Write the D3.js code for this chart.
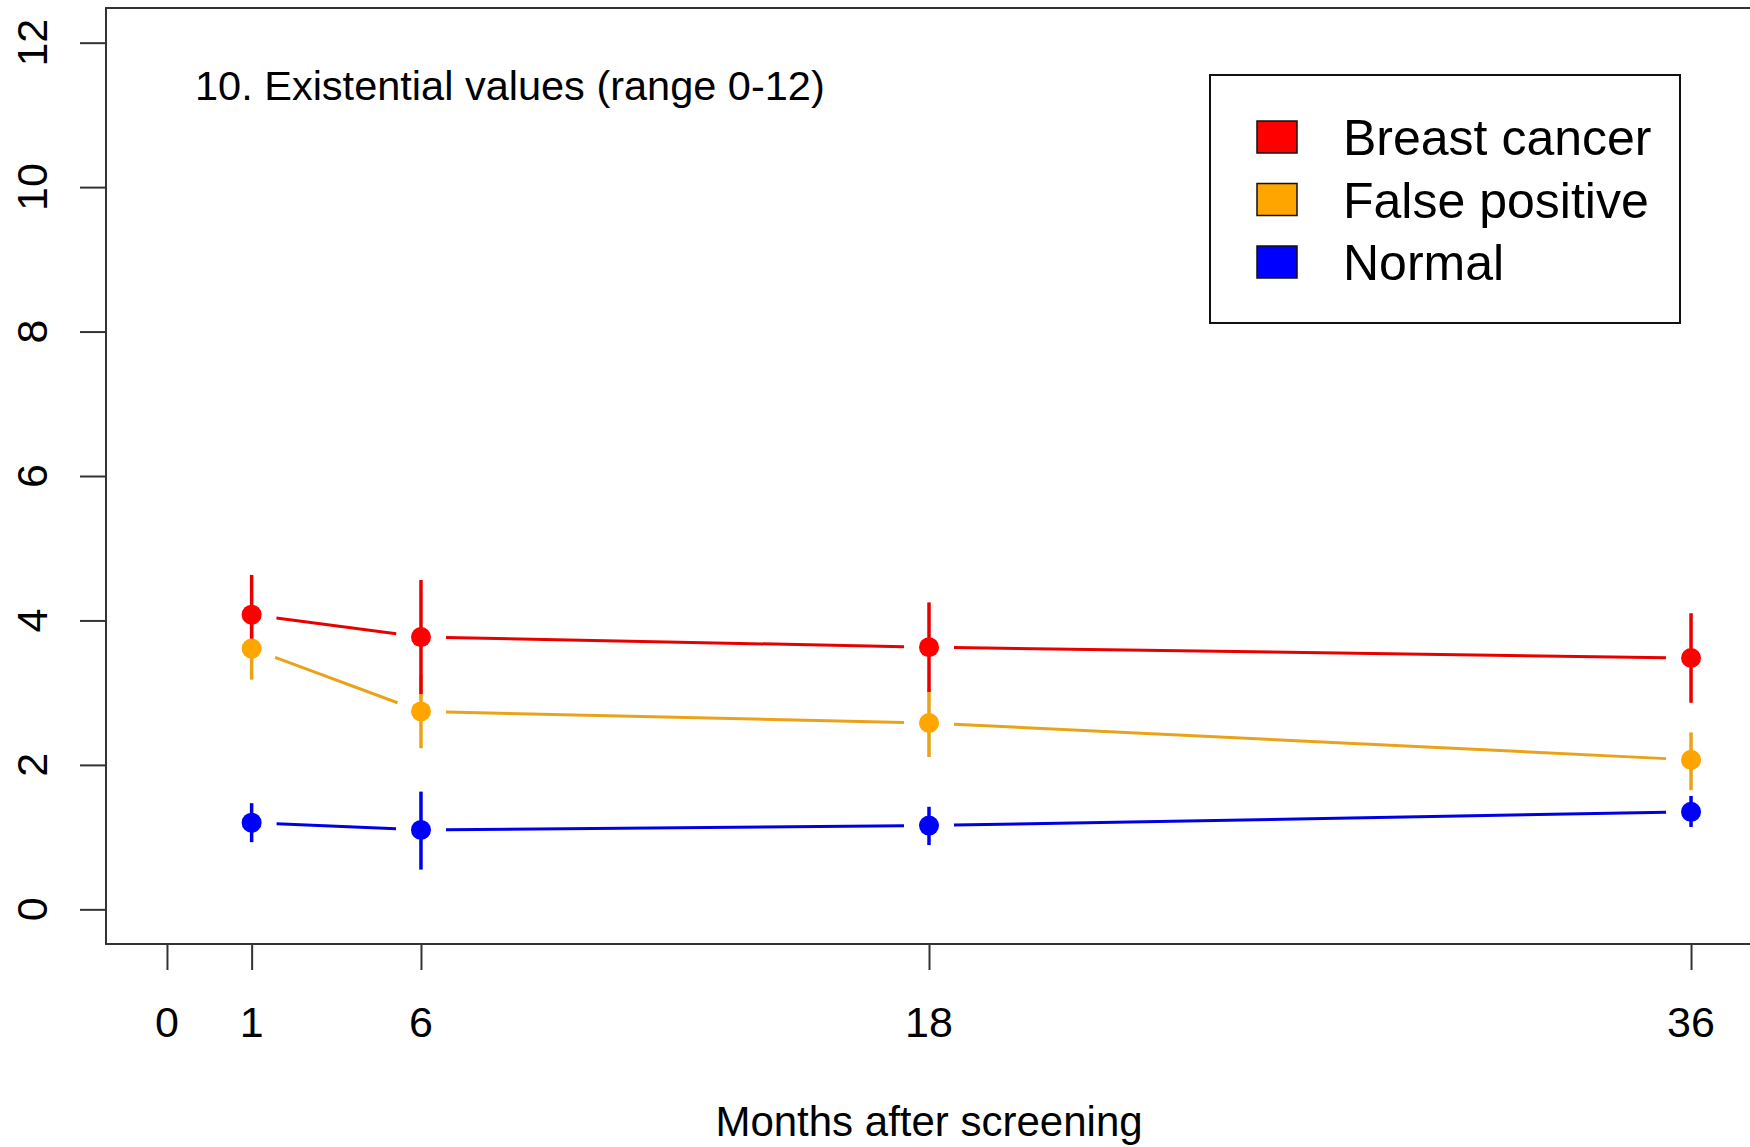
<!DOCTYPE html>
<html>
<head>
<meta charset="utf-8">
<script src="https://cdn.jsdelivr.net/npm/d3@7/dist/d3.min.js"></script>
<style>
  html, body { margin: 0; padding: 0; background: #fff; }
  svg text { font-family: "Liberation Sans", Arial, Helvetica, sans-serif; fill: #000; }
</style>
</head>
<body>
<svg id="chart" width="1750" height="1147"></svg>
<script>
// Follow-up visits (months after screening) and axis ticks
const months = [1, 6, 18, 36];
const xTickMonths = [0, 1, 6, 18, 36];
const yTicks = [0, 2, 4, 6, 8, 10, 12];

// Groups and colours
const groups = ["Breast cancer", "False positive", "Normal"];
const colors = ["#ff0000", "#ffa500", "#0000ff"];
const lineColors = ["#e80000", "#eaa319", "#0000e6"];

// Mean score per visit with 95% confidence limits
const breastMean  = [4.08, 3.77, 3.63, 3.48];
const breastLow   = [3.52, 2.98, 3.01, 2.86];
const breastHigh  = [4.63, 4.56, 4.25, 4.10];

const falseMean   = [3.61, 2.74, 2.58, 2.07];
const falseLow    = [3.18, 2.23, 2.11, 1.65];
const falseHigh   = [4.04, 3.25, 3.05, 2.45];

const normalMean  = [1.20, 1.10, 1.16, 1.35];
const normalLow   = [0.93, 0.55, 0.89, 1.14];
const normalHigh  = [1.47, 1.63, 1.42, 1.57];

const titleText = "10. Existential values (range 0-12)";
const xLabel = "Months after screening";

const series = [
  { name: groups[0], color: colors[0], line: lineColors[0], mean: breastMean, lo: breastLow, hi: breastHigh },
  { name: groups[1], color: colors[1], line: lineColors[1], mean: falseMean,  lo: falseLow,  hi: falseHigh },
  { name: groups[2], color: colors[2], line: lineColors[2], mean: normalMean, lo: normalLow, hi: normalHigh }
];

const svg = d3.select("#chart");
const box = { left: 106, right: 1752, top: 8, bottom: 944 };

// Linear month axis; the first visit is drawn slightly right of the origin
const base = d3.scaleLinear().domain([-1.44, 37.44]).range([box.left, box.right]);
const x = d3.scaleLinear().domain([0, 1, 6, 36]).range([0, 2, 6, 36].map(base));
const y = d3.scaleLinear().domain([-0.48, 12.48]).range([box.bottom, box.top]);

const axisColor = "#333";

// Y axis: ticks left of the frame, labels rotated
const yAxis = d3.axisLeft(y).tickValues(yTicks).tickSize(26).tickPadding(0).tickFormat(() => "");
const gy = svg.append("g").attr("transform", `translate(${box.left},0)`).call(yAxis);
gy.select(".domain").remove();
gy.selectAll(".tick line").attr("stroke", axisColor).attr("stroke-width", 2);
svg.append("g").selectAll("text").data(yTicks).join("text")
  .attr("transform", d => `translate(47,${y(d)}) rotate(-90)`)
  .attr("text-anchor", "middle")
  .style("font-size", "43px")
  .text(d => d);

// X axis: ticks below the frame
const xAxis = d3.axisBottom(x).tickValues(xTickMonths).tickSize(26).tickPadding(0).tickFormat(() => "");
const gx = svg.append("g").attr("transform", `translate(0,${box.bottom})`).call(xAxis);
gx.select(".domain").remove();
gx.selectAll(".tick line").attr("stroke", axisColor).attr("stroke-width", 2);
svg.append("g").selectAll("text").data(xTickMonths).join("text")
  .attr("x", d => x(d))
  .attr("y", 1037)
  .attr("text-anchor", "middle")
  .style("font-size", "43px")
  .text(d => d);

// Plot frame
svg.append("rect")
  .attr("x", box.left).attr("y", box.top)
  .attr("width", box.right - box.left).attr("height", box.bottom - box.top)
  .attr("fill", "none").attr("stroke", axisColor).attr("stroke-width", 2);

// Axis title and panel title
svg.append("text")
  .attr("x", (box.left + box.right) / 2).attr("y", 1136)
  .attr("text-anchor", "middle")
  .style("font-size", "42px")
  .text(xLabel);

svg.append("text")
  .attr("x", 195).attr("y", 100)
  .style("font-size", "41.5px")
  .text(titleText);

const plot = svg.append("g");
const drawOrder = [series[2], series[1], series[0]];

// Confidence-interval bars
drawOrder.forEach(s => {
  plot.append("g").selectAll("line").data(months).join("line")
    .attr("x1", d => x(d)).attr("x2", d => x(d))
    .attr("y1", (d, i) => y(s.lo[i])).attr("y2", (d, i) => y(s.hi[i]))
    .attr("stroke", s.line).attr("stroke-width", 3.5);
});

// Connecting segments, broken around each point
const gap = 25;
drawOrder.forEach(s => {
  const segs = d3.pairs(months.map((m, i) => [x(m), y(s.mean[i])]));
  plot.append("g").selectAll("line").data(segs).join("line")
    .each(function ([a, b]) {
      const dx = b[0] - a[0], dy = b[1] - a[1];
      const len = Math.hypot(dx, dy);
      const ux = dx / len, uy = dy / len;
      d3.select(this)
        .attr("x1", a[0] + ux * gap).attr("y1", a[1] + uy * gap)
        .attr("x2", b[0] - ux * gap).attr("y2", b[1] - uy * gap);
    })
    .attr("stroke", s.line).attr("stroke-width", 3);
});

// Mean points
drawOrder.forEach(s => {
  plot.append("g").selectAll("circle").data(months).join("circle")
    .attr("cx", d => x(d)).attr("cy", (d, i) => y(s.mean[i]))
    .attr("r", 10)
    .attr("fill", s.color);
});

// Legend
const legend = svg.append("g");
legend.append("rect")
  .attr("x", 1210).attr("y", 75).attr("width", 470).attr("height", 248)
  .attr("fill", "#fff").attr("stroke", "#111").attr("stroke-width", 2);
const rows = legend.selectAll("g.row").data(series).join("g")
  .attr("class", "row")
  .attr("transform", (d, i) => `translate(0,${i * 62.5})`);
rows.append("rect")
  .attr("x", 1257).attr("y", 121).attr("width", 40).attr("height", 32)
  .attr("fill", d => d.color).attr("stroke", "#111").attr("stroke-width", 1.5);
rows.append("text")
  .attr("x", 1343).attr("y", 155)
  .style("font-size", "50px")
  .text(d => d.name);
</script>
</body>
</html>
